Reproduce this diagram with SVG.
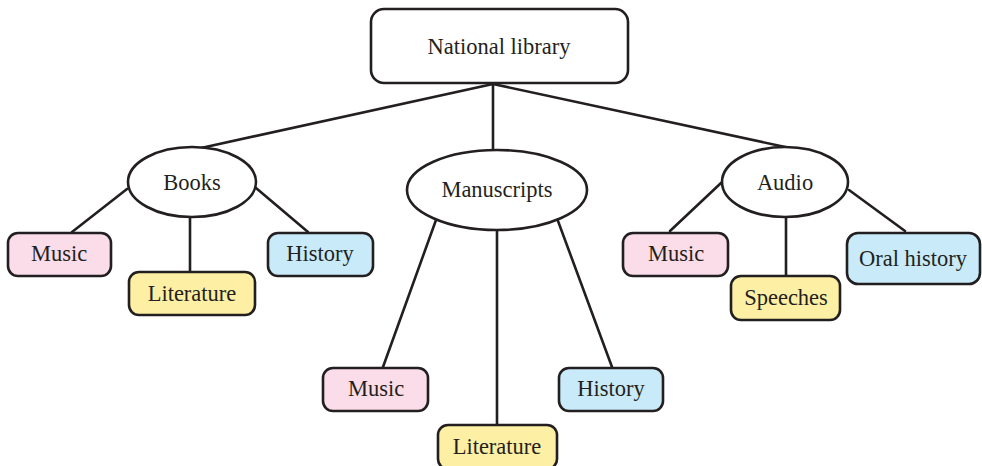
<svg xmlns="http://www.w3.org/2000/svg" width="982" height="466" viewBox="0 0 982 466">
<style>
.n{stroke:#231f20;stroke-width:2.6}
.w{fill:#fff}
.p{fill:#fbdde9}
.y{fill:#fdf0a4}
.b{fill:#c9eaf8}
text{font-family:"Liberation Serif","DejaVu Serif",serif;font-size:22.5px;fill:#231f20;text-anchor:middle}
.c line{stroke:#231f20;stroke-width:2.6;stroke-linecap:round}
</style>
<rect width="982" height="466" fill="#fff"/>
<g class="c" id="connectors">
<line x1="493" y1="84" x2="201" y2="148"/>
<line x1="493" y1="84" x2="493" y2="151"/>
<line x1="493" y1="84" x2="790" y2="148"/>
<line x1="127" y1="189" x2="72" y2="232"/>
<line x1="190" y1="217" x2="190" y2="272"/>
<line x1="256" y1="188" x2="308" y2="232"/>
<line x1="436" y1="220" x2="383" y2="367"/>
<line x1="497" y1="230" x2="497" y2="425"/>
<line x1="558" y1="221" x2="612" y2="367"/>
<line x1="721" y1="183" x2="670" y2="231"/>
<line x1="786" y1="217" x2="786" y2="276"/>
<line x1="849" y1="190" x2="905" y2="231"/>
</g>
<g id="national-library"><rect class="n w" x="371" y="9" width="257" height="74" rx="13"/><text x="499" y="54">National library</text></g>
<g id="books"><ellipse class="n w" cx="192" cy="182" rx="64" ry="35"/><text x="192" y="190">Books</text></g>
<g id="manuscripts"><ellipse class="n w" cx="497" cy="190" rx="90" ry="40"/><text x="497" y="197">Manuscripts</text></g>
<g id="audio"><ellipse class="n w" cx="785" cy="182" rx="63" ry="35"/><text x="785" y="190">Audio</text></g>
<g id="books-music"><rect class="n p" x="8" y="233" width="103" height="43" rx="10"/><text x="59" y="261">Music</text></g>
<g id="books-literature"><rect class="n y" x="129" y="272" width="126" height="43" rx="10"/><text x="192" y="301">Literature</text></g>
<g id="books-history"><rect class="n b" x="268" y="233" width="105" height="43" rx="10"/><text x="320" y="261">History</text></g>
<g id="manuscripts-music"><rect class="n p" x="323" y="368" width="105" height="43" rx="10"/><text x="376" y="396">Music</text></g>
<g id="manuscripts-literature"><rect class="n y" x="438" y="425" width="119" height="44" rx="10"/><text x="497" y="454">Literature</text></g>
<g id="manuscripts-history"><rect class="n b" x="559" y="368" width="104" height="43" rx="10"/><text x="611" y="396">History</text></g>
<g id="audio-music"><rect class="n p" x="623" y="233" width="105" height="43" rx="10"/><text x="676" y="261">Music</text></g>
<g id="audio-speeches"><rect class="n y" x="731" y="276" width="109" height="44" rx="10"/><text x="786" y="305">Speeches</text></g>
<g id="audio-oral-history"><rect class="n b" x="847" y="233" width="133" height="51" rx="11"/><text x="913" y="266">Oral history</text></g>
</svg>
